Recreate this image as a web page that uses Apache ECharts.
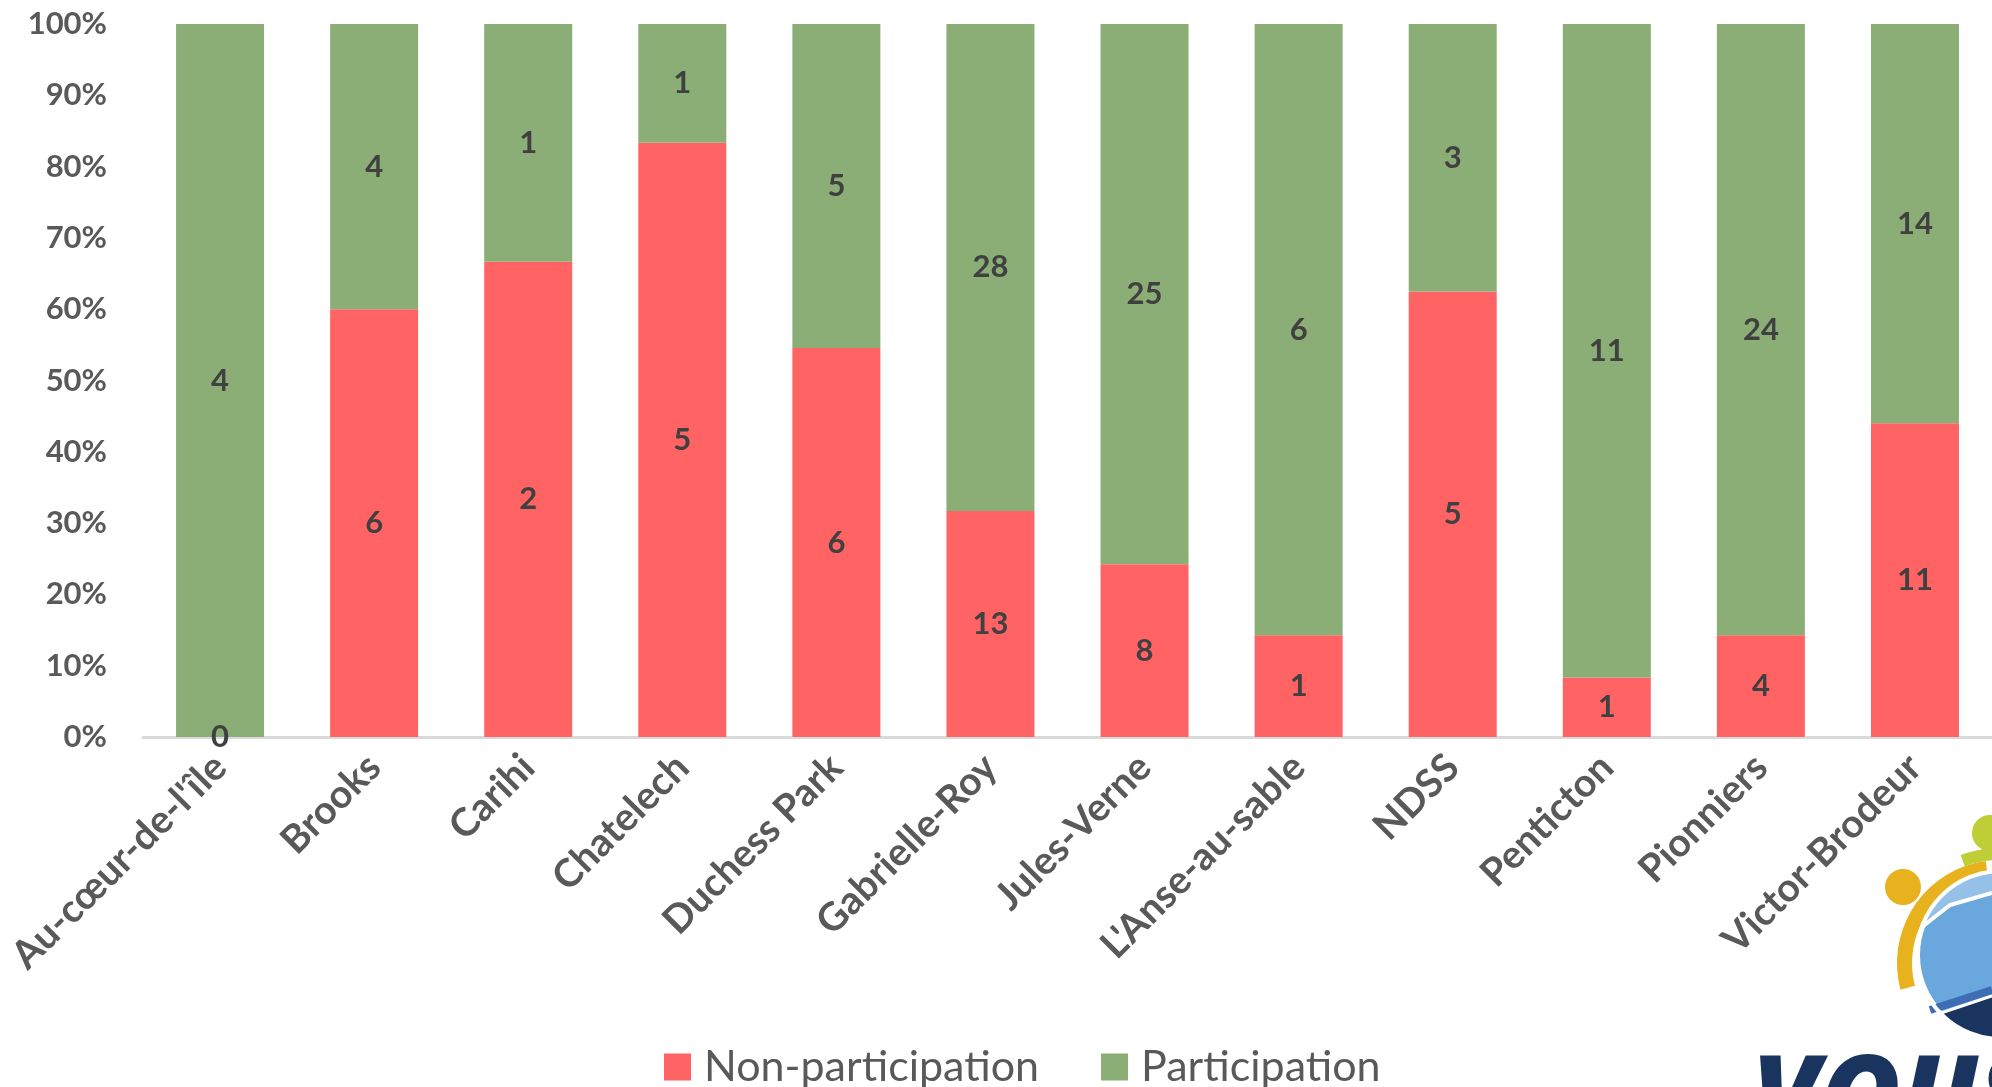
<!DOCTYPE html>
<html>
<head>
<meta charset="utf-8">
<script src="https://cdn.jsdelivr.net/npm/echarts@6/dist/echarts.min.js"></script>
<style>
html,body{margin:0;padding:0;background:#fff;}
#c{width:1992px;height:1087px;}
</style>
</head>
<body>
<div id="c"></div>
<script>
const categories = ["Au-cœur-de-l'île","Brooks","Carihi","Chatelech","Duchess Park","Gabrielle-Roy","Jules-Verne","L'Anse-au-sable","NDSS","Penticton","Pionniers","Victor-Brodeur"];
const nonParticipation = [0,6,2,5,6,13,8,1,5,1,4,11];
const participation = [4,4,1,1,5,28,25,6,3,11,24,14];
const seriesNames = ["Non-participation","Participation"];
const yMin = 0, yMax = 100, yInterval = 10;

const RED = '#FF6363', GREEN = '#8BAD76', TXT = '#595959', LBL = '#404040';
const FONT = 'Lato';

function pct(counts){
  return counts.map((v,i)=>{
    const total = nonParticipation[i] + participation[i];
    return {value: total ? v/total*100 : 0, count: v};
  });
}

// logo helpers (decoration)
const gcx = 2001, gcy = 955, gr = 83;
function arcPts(cx, cy, r, a0, a1, n){
  const pts = [];
  for(let k=0;k<=n;k++){
    const a = (a0 + (a1-a0)*k/n) * Math.PI/180;
    pts.push([cx + r*Math.cos(a), cy + r*Math.sin(a)]);
  }
  return pts;
}
const navyPts = arcPts(gcx, gcy, gr, 0, 136, 40);
navyPts.push([1992, 997]);
navyPts.push([2090, 961]);
const lightPts = arcPts(gcx, gcy, gr, 199, 360, 40);
lightPts.push([2060, 880]);
lightPts.push([1992, 893]);
lightPts.push([1950, 905]);

const chart = echarts.init(document.getElementById('c'), null, {renderer:'canvas'});
chart.setOption({
  animation:false,
  backgroundColor:'#fff',
  grid:{left:143, right:-13, top:24, bottom:350, containLabel:false},
  legend:{
    data:seriesNames, left:659, top:1040,
    itemWidth:27, itemHeight:27, itemGap:62,
    icon:'rect',
    textStyle:{fontFamily:FONT, fontSize:43, color:TXT, lineHeight:44, padding:[0,0,0,8]}
  },
  xAxis:{
    type:'category', data:categories,
    axisTick:{show:false},
    axisLine:{lineStyle:{color:'#D9D9D9', width:3}},
    axisLabel:{rotate:45, margin:24, interval:0, fontFamily:FONT, fontWeight:'bold', fontSize:39, color:TXT}
  },
  yAxis:{
    type:'value', min:yMin, max:yMax, interval:yInterval,
    axisLine:{show:false}, axisTick:{show:false}, splitLine:{show:false},
    axisLabel:{formatter:'{value}%', margin:36, fontFamily:FONT, fontWeight:'bold', fontSize:31, color:TXT}
  },
  series:[
    {name:seriesNames[0], type:'bar', stack:'s', barWidth:88, data:pct(nonParticipation),
     itemStyle:{color:RED},
     label:{show:true, position:'inside', formatter:p=>String(p.data.count), fontFamily:FONT, fontWeight:'bold', fontSize:31, color:LBL}},
    {name:seriesNames[1], type:'bar', stack:'s', barWidth:88, data:pct(participation),
     itemStyle:{color:GREEN},
     label:{show:true, position:'inside', formatter:p=>String(p.data.count), fontFamily:FONT, fontWeight:'bold', fontSize:31, color:LBL}}
  ],
  graphic:[
    {type:'sector', shape:{cx:2000, cy:963, r0:103, r:115, startAngle:250*Math.PI/180, endAngle:300*Math.PI/180}, style:{fill:'#BFCD36'}},
    {type:'circle', shape:{cx:1990, cy:833, r:18}, style:{fill:'#BFCD36'}},
    {type:'sector', shape:{cx:2000, cy:963, r0:88, r:103, startAngle:165*Math.PI/180, endAngle:262*Math.PI/180}, style:{fill:'#E8B11E'}},
    {type:'circle', shape:{cx:1903, cy:887, r:18}, style:{fill:'#E8B11E'}},
    {type:'circle', shape:{cx:gcx, cy:gcy, r:gr}, style:{fill:'#69A7DC', stroke:'#fff', lineWidth:4}},
    {type:'polygon', shape:{points:lightPts}, style:{fill:'#95C1E8'}},
    {type:'polyline', shape:{points:[[1922,927],[1950,905],[1992,893]]}, style:{stroke:'#fff', lineWidth:4, fill:null}},
    {type:'polyline', shape:{points:[[1930,1010],[1992,990]]}, style:{stroke:'#3E6DB5', lineWidth:8, fill:null}},
    {type:'polygon', shape:{points:navyPts}, style:{fill:'#1A3460'}},
    {type:'polyline', shape:{points:[[1932,1016],[1992,996]]}, style:{stroke:'#fff', lineWidth:3, fill:null}},
    {type:'circle', shape:{cx:gcx, cy:gcy, r:gr+1}, style:{fill:null, stroke:'#fff', lineWidth:4}},
    {type:'text', left:1752, top:1048, style:{text:'VOUS', fill:'#1A3460', font:'italic 900 110px "Open Sans"'}}
  ]
});
</script>
</body>
</html>
